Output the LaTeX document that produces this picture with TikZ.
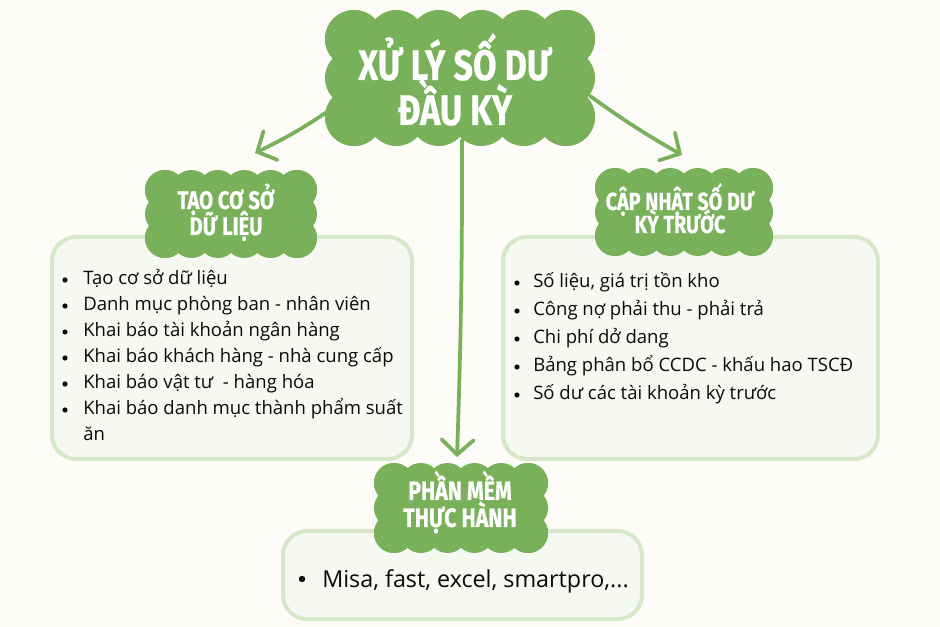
\documentclass[tikz,border=0pt]{standalone}
\usepackage{fontspec}
\setmainfont{Open Sans}
\newfontfamily\titlefont[FakeStretch=0.8, BoldFeatures={FakeBold=0.6}]{Fira Sans}
\usetikzlibrary{arrows.meta}
\definecolor{bgc}{HTML}{FDFCF8}
\definecolor{cloudg}{HTML}{79B05A}
\definecolor{boxline}{HTML}{D7E8CA}
\definecolor{boxfill}{HTML}{F6F8F2}
\definecolor{txt}{HTML}{0A0A0A}
\newcommand\mycloud[7]{%
 \pgfmathsetmacro\cloudL{#1-#3/2+#7}%
 \pgfmathsetmacro\cloudR{#1+#3/2-#7}%
 \pgfmathsetmacro\cloudT{#2-#4/2+#7}%
 \pgfmathsetmacro\cloudB{#2+#4/2-#7}%
 \pgfmathtruncatemacro\cloudNx{#5-1}%
 \pgfmathtruncatemacro\cloudNy{#6-1}%
 \fill[cloudg] (\cloudL,\cloudT) rectangle (\cloudR,\cloudB);
 \foreach \i in {0,...,\cloudNx}{%
   \pgfmathsetmacro\xx{\cloudL+(\cloudR-\cloudL)*\i/\cloudNx}%
   \fill[cloudg] (\xx,\cloudT) circle[radius=#7];
   \fill[cloudg] (\xx,\cloudB) circle[radius=#7];}
 \foreach \j in {0,...,\cloudNy}{%
   \pgfmathsetmacro\yy{\cloudT+(\cloudB-\cloudT)*\j/\cloudNy}%
   \fill[cloudg] (\cloudL,\yy) circle[radius=#7];
   \fill[cloudg] (\cloudR,\yy) circle[radius=#7];}
}
\tikzset{
  infobox/.style={draw=boxline, fill=boxfill, line width=3pt, rounded corners=18pt},
  titletext/.style={text=white, anchor=base, inner sep=0pt},
  bodytext/.style={text=txt, anchor=base west, inner sep=0pt, font=\fontsize{13.9}{16}\selectfont},
  bigtext/.style={text=txt, anchor=base west, inner sep=0pt, font=\fontsize{17.5}{20}\selectfont},
  arr/.style={draw=cloudg, line width=2.8pt, line cap=round,
    -{Straight Barb[length=11pt,width=24pt,line cap=round]}},
  dot/.style={fill=txt}
}
\begin{document}
\begin{tikzpicture}[x=0.75pt,y=-0.75pt]
\fill[bgc] (0,0) rectangle (940,627);
\useasboundingbox (0,0) rectangle (940,627);

% boxes
\draw[infobox] (52,237) rectangle (412,459);
\draw[infobox] (503,237) rectangle (878,459);
\draw[infobox] (283,531) rectangle (642,619);

% arrows
\coordinate (aL1) at (330,110);
\coordinate (aL2) at (255,153);
\coordinate (aR1) at (590,96);
\coordinate (aR2) at (682,155);
\coordinate (aM1) at (462,140);
\coordinate (aM2) at (457,457);
\draw[arr] (aL1) to[bend left=4] (aL2);
\draw[arr] (aR1) to[bend right=3] (aR2);
\draw[arr] (aM1) to[bend left=1] (aM2);

% clouds
\mycloud{460}{78}{270}{136}{6}{3}{29}
\mycloud{231}{214}{172}{88}{6}{3}{20}
\mycloud{684}{212}{178}{88}{6}{3}{20}
\mycloud{461}{508}{174}{90}{6}{3}{20}

% cloud titles
\node[titletext, font=\titlefont\bfseries\fontsize{32}{34}\selectfont] (t1) at (455,80) {XỬ LÝ SỐ DƯ};
\node[titletext, font=\titlefont\bfseries\fontsize{32}{34}\selectfont] (t2) at (455,125) {ĐẦU KỲ};
\node[titletext, font=\titlefont\bfseries\fontsize{19}{21}\selectfont] (l1) at (226,209) {TẠO CƠ SỞ};
\node[titletext, font=\titlefont\bfseries\fontsize{19}{21}\selectfont] (l2) at (226,235) {DỮ LIỆU};
\node[titletext, font=\titlefont\bfseries\fontsize{18.5}{20}\selectfont] (r1) at (680,210) {CẬP NHẬT SỐ DƯ};
\node[titletext, font=\titlefont\bfseries\fontsize{18.5}{20}\selectfont] (r2) at (680,233) {KỲ TRƯỚC};
\node[titletext, font=\titlefont\bfseries\fontsize{20}{22}\selectfont] (b1) at (460,500) {PHẦN MỀM};
\node[titletext, font=\titlefont\bfseries\fontsize{20}{22}\selectfont] (b2) at (460,527) {THỰC HÀNH};

% left list
\foreach \t [count=\i] in {Tạo cơ sở dữ liệu, Danh mục phòng ban - nhân viên, Khai báo tài khoản ngân hàng, Khai báo khách hàng - nhà cung cấp, Khai báo vật tư \ - hàng hóa, Khai báo danh mục thành phẩm suất}{
  \pgfmathsetmacro\by{285+26*(\i-1)}
  \fill[dot] (65,\by-5) circle[radius=2.6];
  \node[bodytext] (left\i) at (83,\by) {\t};
}
\node[bodytext] (left7) at (83,441) {ăn};

% right list
\foreach \t [count=\i] in {{Số liệu, giá trị tồn kho}, Công nợ phải thu - phải trả, Chi phí dở dang, Bảng phân bổ CCDC - khấu hao TSCĐ, Số dư các tài khoản kỳ trước}{
  \pgfmathsetmacro\by{288+28*(\i-1)}
  \fill[dot] (517,\by-5) circle[radius=2.6];
  \node[bodytext] (right\i) at (533,\by) {\t};
}

% bottom list
\fill[dot] (302,579) circle[radius=3.2];
\node[bigtext] (soft) at (322,587) {Misa, fast, excel, smartpro,...};
\end{tikzpicture}
\end{document}
